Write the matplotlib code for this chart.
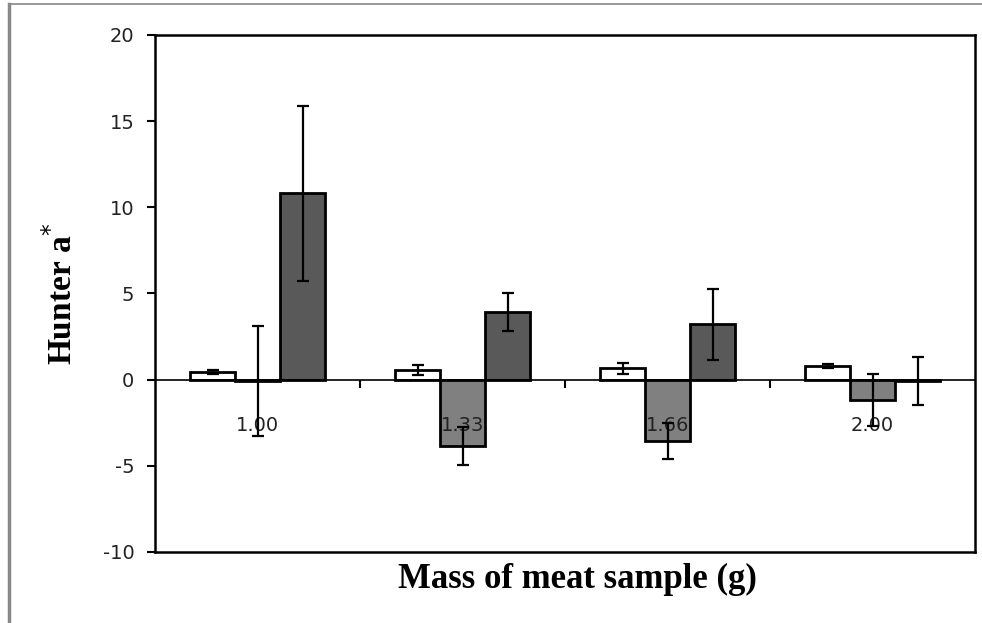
import matplotlib.pyplot as plt
import numpy as np
from matplotlib.lines import Line2D

plt.rcParams["axes.unicode_minus"] = False

# Hunter a* by mass of meat sample, three treatments per mass
masses = ["1.00", "1.33", "1.66", "2.00"]
series_a = [0.45, 0.55, 0.65, 0.80]
series_a_err = [0.1, 0.3, 0.3, 0.12]
series_b = [-0.1, -3.85, -3.55, -1.2]
series_b_err = [3.2, 1.1, 1.05, 1.5]
series_c = [10.8, 3.9, 3.2, -0.1]
series_c_err = [5.1, 1.1, 2.05, 1.4]

fig = plt.figure(figsize=(9.82, 6.23), dpi=100)
ax = fig.add_axes([0.158, 0.114, 0.835, 0.830])

x = np.arange(len(masses))
w = 0.22
bar_kw = dict(width=w, edgecolor="black", linewidth=2.0, zorder=1)
err_kw = dict(fmt="none", ecolor="black", elinewidth=1.6, capsize=4, capthick=1.6, zorder=4)

for off, vals, errs, col in [(-w, series_a, series_a_err, "white"),
                             (0, series_b, series_b_err, "#808080"),
                             (w, series_c, series_c_err, "#595959")]:
    ax.bar(x + off, vals, color=col, **bar_kw)
    ax.errorbar(x + off, vals, yerr=errs, **err_kw)

ax.set_xlim(-0.5, len(masses) - 0.5)
ax.set_ylim(-10, 20)
ax.set_yticks(np.arange(-10, 21, 5))

# x axis sits on the zero line, box closed at the bottom separately
ax.spines["bottom"].set_position(("data", 0))
ax.spines["bottom"].set_linewidth(1.2)
for s in ["top", "left", "right"]:
    ax.spines[s].set_linewidth(1.8)
ax.axhline(-10, color="black", lw=1.8, clip_on=False, zorder=3)

ax.set_xticks(x[:-1] + 0.5)
ax.set_xticklabels([])
ax.set_xticks(x, minor=True)
ax.set_xticklabels(masses, minor=True)
ax.tick_params(axis="x", which="major", direction="out", length=6, width=1.5)
ax.tick_params(axis="x", which="minor", length=0, pad=26, labelsize=14, labelcolor="#222222")
ax.tick_params(axis="y", direction="out", length=6, width=1.5, labelsize=14,
               labelcolor="#222222", pad=9)

ax.set_ylabel("Hunter a$^{*}$", fontfamily="Liberation Serif", fontweight="bold",
              fontsize=24, labelpad=17)
fig.text(0.588, 0.07, "Mass of meat sample (g)", ha="center", va="center",
         fontfamily="Liberation Serif", fontweight="bold", fontsize=25)

# grey frame around the figure
fig.add_artist(Line2D([0.009, 0.009], [0.0, 0.993], color="#888888", lw=2.5))
fig.add_artist(Line2D([0.009, 1.0], [0.993, 0.993], color="#888888", lw=1.2))

fig.savefig("out.png", dpi=100)
